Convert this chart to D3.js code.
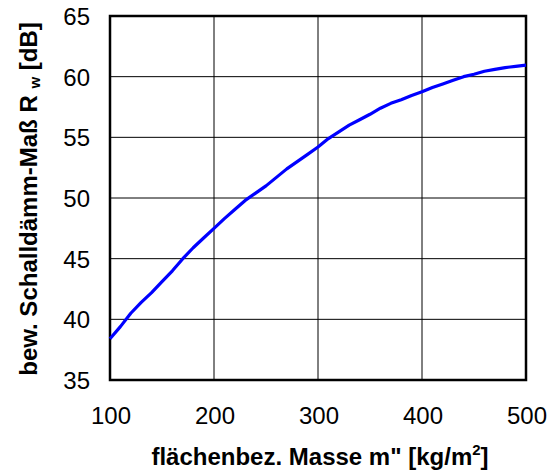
<!DOCTYPE html>
<html>
<head>
<meta charset="utf-8">
<script src="https://cdn.jsdelivr.net/npm/d3@7"></script>
<style>
  body { margin: 0; background: #fff; }
  text { font-family: "Liberation Sans", Arial, sans-serif; fill: #000; }
</style>
</head>
<body>
<div id="container"></div>
<script>
const w = 550;
const h = 474;
const p = {left: 110, top: 16, right: 24, bottom: 94};

// flächenbezogene Masse m'' [kg/m²]
const mass = [100, 110, 120, 130, 140, 150, 160, 170, 180, 190, 200, 210, 220, 230, 240, 250,
  260, 270, 280, 290, 300, 310, 320, 330, 340, 350, 360, 370, 380, 390, 400, 410, 420, 430,
  440, 450, 460, 470, 480, 490, 500];
// bew. Schalldämm-Maß Rw [dB]
const rw = [38.4, 39.4, 40.5, 41.4, 42.2, 43.1, 44.0, 45.0, 45.9, 46.7, 47.5, 48.3, 49.05, 49.8,
  50.4, 51.0, 51.7, 52.4, 53.0, 53.6, 54.2, 54.9, 55.45, 56.0, 56.45, 56.9, 57.4, 57.8, 58.1,
  58.45, 58.75, 59.1, 59.4, 59.7, 60.0, 60.2, 60.45, 60.6, 60.75, 60.85, 60.95];
const xTicks = [100, 200, 300, 400, 500];
const yTicks = [35, 40, 45, 50, 55, 60, 65];

const svg = d3.select('#container')
  .append('svg')
  .attr('width', w)
  .attr('height', h);

const x = d3.scaleLinear().domain([100, 500]).range([p.left, w - p.right]);
const y = d3.scaleLinear().domain([35, 65]).range([h - p.bottom, p.top]);

// grid
svg.append('g')
  .selectAll('line')
  .data(xTicks)
  .join('line')
    .attr('x1', d => x(d)).attr('x2', d => x(d))
    .attr('y1', y(35)).attr('y2', y(65))
    .attr('stroke', '#000')
    .attr('stroke-width', 1);

svg.append('g')
  .selectAll('line')
  .data(yTicks)
  .join('line')
    .attr('x1', x(100)).attr('x2', x(500))
    .attr('y1', d => y(d)).attr('y2', d => y(d))
    .attr('stroke', '#000')
    .attr('stroke-width', 1);

// frame
svg.append('rect')
  .attr('x', x(100))
  .attr('y', y(65))
  .attr('width', x(500) - x(100))
  .attr('height', y(35) - y(65))
  .attr('fill', 'none')
  .attr('stroke', '#000')
  .attr('stroke-width', 2.5);

// tick labels
svg.append('g')
  .selectAll('text')
  .data(xTicks)
  .join('text')
    .attr('x', d => x(d) + 1)
    .attr('y', h - p.bottom + 44)
    .attr('text-anchor', 'middle')
    .style('font-size', '24px')
    .text(d => d);

svg.append('g')
  .selectAll('text')
  .data(yTicks)
  .join('text')
    .attr('x', p.left - 20)
    .attr('y', d => y(d) + 9)
    .attr('text-anchor', 'end')
    .style('font-size', '24px')
    .text(d => d);

// curve
const line = d3.line()
  .x((d, i) => x(mass[i]))
  .y(d => y(d));

svg.append('path')
  .datum(rw)
  .attr('fill', 'none')
  .attr('stroke', '#0000ff')
  .attr('stroke-width', 3.2)
  .attr('stroke-linejoin', 'round')
  .attr('d', line);

// axis titles
const xt = svg.append('text')
  .attr('x', 320)
  .attr('y', 465)
  .attr('text-anchor', 'middle')
  .style('font-size', '24px')
  .style('font-weight', 'bold');
xt.append('tspan').text('flächenbez. Masse m" [kg/m');
xt.append('tspan').attr('dy', -10).style('font-size', '15px').text('2');
xt.append('tspan').attr('dy', 10).text(']');

const yt = svg.append('text')
  .attr('transform', 'translate(37,' + 199 + ') rotate(-90)')
  .attr('text-anchor', 'middle')
  .style('font-size', '24px')
  .style('font-weight', 'bold');
yt.append('tspan').text('bew. Schalldämm-Maß R ');
yt.append('tspan').attr('dy', 3).style('font-size', '15px').text('w');
yt.append('tspan').attr('dy', -3).text(' [dB]');
</script>
</body>
</html>
